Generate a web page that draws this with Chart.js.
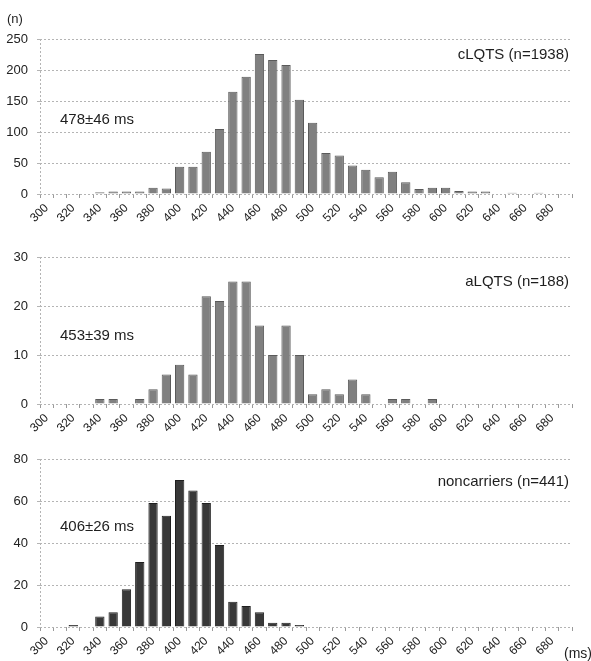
<!DOCTYPE html>
<html>
<head>
<meta charset="utf-8">
<script src="https://cdn.jsdelivr.net/npm/chart.js@4/dist/chart.umd.min.js"></script>
<style>
  html, body { margin: 0; padding: 0; background: #fff; }
  #wrap { position: relative; width: 591px; height: 661px; overflow: hidden; }
  .panel { position: absolute; left: 0; }
  canvas { display: block; }
</style>
</head>
<body>
<div id="wrap">
  <div class="panel" style="top:0px"><canvas id="c1" width="591" height="224"></canvas></div>
  <div class="panel" style="top:224px"><canvas id="c2" width="591" height="210"></canvas></div>
  <div class="panel" style="top:434px"><canvas id="c3" width="591" height="227"></canvas></div>
</div>
<script>
// QTc bins (ms), 10 ms wide
const qtcBins = ['300','310','320','330','340','350','360','370','380','390',
                 '400','410','420','430','440','450','460','470','480','490',
                 '500','510','520','530','540','550','560','570','580','590',
                 '600','610','620','630','640','650','660','670','680','690'];

// Patient counts per bin
const cLQTS = [0,0,0,0,3,4,4,4,10,9,
               44,44,68,105,165,189,226,216,208,152,
               115,66,62,46,39,27,36,19,8,10,
               10,5,4,4,1,2,0,2,1,0];
const aLQTS = [0,0,0,0,1,1,0,1,3,6,
               8,6,22,21,25,25,16,10,16,10,
               2,3,2,5,2,0,1,1,0,1,
               0,0,0,0,0,0,0,0,0,0];
const noncarriers = [0,0,1,0,5,7,18,31,59,53,
                     70,65,59,39,12,10,7,2,2,1,
                     0,0,0,0,0,0,0,0,0,0,
                     0,0,0,0,0,0,0,0,0,0];

// Y axis ranges
const yMax = [250, 30, 80];
const yStep = [50, 10, 20];

// Panel captions
const groupLabels = ['cLQTS (n=1938)', 'aLQTS (n=188)', 'noncarriers (n=441)'];
const meanLabels = ['478\u00b146 ms', '453\u00b139 ms', '406\u00b126 ms'];

const FONT = '"Liberation Sans", Arial, sans-serif';
const GRID = '#b4b4b4';

const panelText = {
  id: 'panelText',
  afterDraw(chart, args, opts) {
    const {ctx, chartArea: a} = chart;
    ctx.save();
    ctx.fillStyle = '#1e1e1e';
    ctx.textBaseline = 'middle';
    ctx.font = '15px ' + FONT;
    ctx.textAlign = 'left';
    ctx.fillText(opts.mean, a.left + 20, a.top + opts.meanY);
    ctx.textAlign = 'right';
    ctx.fillText(opts.group, a.right - 3, a.top + opts.groupY);
    ctx.font = '13px ' + FONT;
    if (opts.yTitle) {
      ctx.textAlign = 'left';
      ctx.fillText(opts.yTitle, 7, a.top - 20);
    }
    if (opts.xTitle) {
      ctx.textAlign = 'left';
      ctx.font = '14px ' + FONT;
      ctx.fillText(opts.xTitle, a.right - 8, a.bottom + 27);
    }
    // dotted left axis line
    ctx.strokeStyle = GRID;
    ctx.lineWidth = 1;
    ctx.setLineDash([2, 2]);
    ctx.beginPath();
    ctx.moveTo(a.left + 0.5, a.top);
    ctx.lineTo(a.left + 0.5, a.bottom);
    ctx.stroke();
    ctx.restore();
  }
};

function makePanel(id, data, idx, fill, edge, padTop, axisH, text) {
  new Chart(document.getElementById(id), {
    type: 'bar',
    data: {
      labels: qtcBins,
      datasets: [{
        data: data,
        backgroundColor: fill,
        borderColor: edge,
        borderWidth: c => (c.raw ? 1 : 0),
        barPercentage: 0.7,
        categoryPercentage: 1.0
      }]
    },
    options: {
      responsive: false,
      animation: false,
      devicePixelRatio: 1,
      layout: { padding: { top: padTop, right: 19, bottom: 0, left: 0 } },
      plugins: {
        legend: { display: false },
        tooltip: { enabled: false },
        panelText: text
      },
      scales: {
        x: {
          afterFit: s => { s.height = axisH; },
          grid: {
            offset: true,
            drawOnChartArea: false,
            drawTicks: true,
            tickLength: 4,
            tickColor: '#9a9a9a'
          },
          border: { display: false },
          ticks: {
            autoSkip: false,
            maxRotation: 45,
            minRotation: 45,
            padding: 3,
            color: '#222',
            font: { family: FONT, size: 12 },
            callback: (v, i) => (i % 2 === 0 ? qtcBins[i] : '')
          }
        },
        y: {
          min: 0,
          max: yMax[idx],
          afterFit: s => { s.width = 40; },
          grid: {
            color: GRID,
            lineWidth: 1,
            drawTicks: true,
            tickLength: 3,
            tickColor: GRID
          },
          border: { display: false, dash: [2, 2] },
          ticks: {
            stepSize: yStep[idx],
            padding: 9,
            color: '#222',
            font: { family: FONT, size: 13 }
          }
        }
      }
    },
    plugins: [panelText]
  });
}

makePanel('c1', cLQTS, 0, '#808080', '#5a5a5a', 39, 30,
  { mean: meanLabels[0], meanY: 81, group: groupLabels[0], groupY: 16, yTitle: '(n)' });
makePanel('c2', aLQTS, 1, '#808080', '#5a5a5a', 33, 30,
  { mean: meanLabels[1], meanY: 79, group: groupLabels[1], groupY: 25 });
makePanel('c3', noncarriers, 2, '#383838', '#202020', 25, 34,
  { mean: meanLabels[2], meanY: 68, group: groupLabels[2], groupY: 23, xTitle: '(ms)' });
</script>
</body>
</html>
